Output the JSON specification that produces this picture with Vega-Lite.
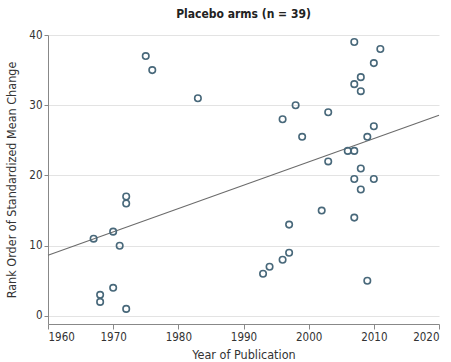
{
  "$schema": "https://vega.github.io/schema/vega-lite/v6.json",
  "width": 391,
  "height": 289,
  "autosize": {"type": "none"},
  "padding": {"left": 48, "top": 35, "right": 12, "bottom": 38},
  "background": "white",
  "title": {"text": "Placebo arms (n = 39)", "font": "'DejaVu Sans Condensed', Roboto, sans-serif", "fontSize": 12, "fontWeight": "bold", "color": "#222", "anchor": "middle", "offset": 8},
  "config": {
    "view": {"stroke": null},
    "axis": {"labelFont": "'DejaVu Sans Condensed', Roboto, sans-serif", "titleFont": "'DejaVu Sans Condensed', Roboto, sans-serif", "labelFontSize": 11.5, "titleFontSize": 12.5, "labelColor": "#333", "titleColor": "#333", "titleFontWeight": "normal", "domainColor": "#888", "tickColor": "#888"}
  },
  "data": {
    "values": [
      {"year": 1967, "rank": 11},
      {"year": 1968, "rank": 3},
      {"year": 1968, "rank": 2},
      {"year": 1970, "rank": 12},
      {"year": 1970, "rank": 4},
      {"year": 1971, "rank": 10},
      {"year": 1972, "rank": 17},
      {"year": 1972, "rank": 16},
      {"year": 1972, "rank": 1},
      {"year": 1975, "rank": 37},
      {"year": 1976, "rank": 35},
      {"year": 1983, "rank": 31},
      {"year": 1993, "rank": 6},
      {"year": 1994, "rank": 7},
      {"year": 1996, "rank": 8},
      {"year": 1996, "rank": 28},
      {"year": 1997, "rank": 9},
      {"year": 1997, "rank": 13},
      {"year": 1998, "rank": 30},
      {"year": 1999, "rank": 25.5},
      {"year": 2002, "rank": 15},
      {"year": 2003, "rank": 29},
      {"year": 2003, "rank": 22},
      {"year": 2006, "rank": 23.5},
      {"year": 2007, "rank": 39},
      {"year": 2007, "rank": 33},
      {"year": 2007, "rank": 23.5},
      {"year": 2007, "rank": 19.5},
      {"year": 2007, "rank": 14},
      {"year": 2008, "rank": 34},
      {"year": 2008, "rank": 32},
      {"year": 2008, "rank": 21},
      {"year": 2008, "rank": 18},
      {"year": 2009, "rank": 25.5},
      {"year": 2009, "rank": 5},
      {"year": 2010, "rank": 36},
      {"year": 2010, "rank": 27},
      {"year": 2010, "rank": 19.5},
      {"year": 2011, "rank": 38}
    ]
  },
  "layer": [
    {
      "transform": [{"regression": "rank", "on": "year", "extent": [1960, 2020]}],
      "mark": {"type": "line", "color": "#6b6b6b", "strokeWidth": 1.1},
      "encoding": {
        "x": {"field": "year", "type": "quantitative"},
        "y": {"field": "rank", "type": "quantitative"}
      }
    },
    {
      "mark": {"type": "point", "filled": false, "color": "#48687a", "strokeWidth": 1.6, "size": 42, "opacity": 1},
      "encoding": {
        "x": {"field": "year", "type": "quantitative", "scale": {"domain": [1960, 2020], "nice": false},
          "axis": {"title": "Year of Publication", "values": [1960, 1970, 1980, 1990, 2000, 2010, 2020], "format": "d", "grid": false, "tickSize": 5, "labelPadding": 2, "titlePadding": 6}},
        "y": {"field": "rank", "type": "quantitative", "scale": {"domain": [-1.15, 40], "nice": false, "zero": false},
          "axis": {"title": "Rank Order of Standardized Mean Change", "values": [0, 10, 20, 30, 40], "grid": true, "gridColor": "#e3e3e3", "gridWidth": 1.2, "tickSize": 4, "labelPadding": 2, "titlePadding": 10}}
      }
    }
  ]
}
